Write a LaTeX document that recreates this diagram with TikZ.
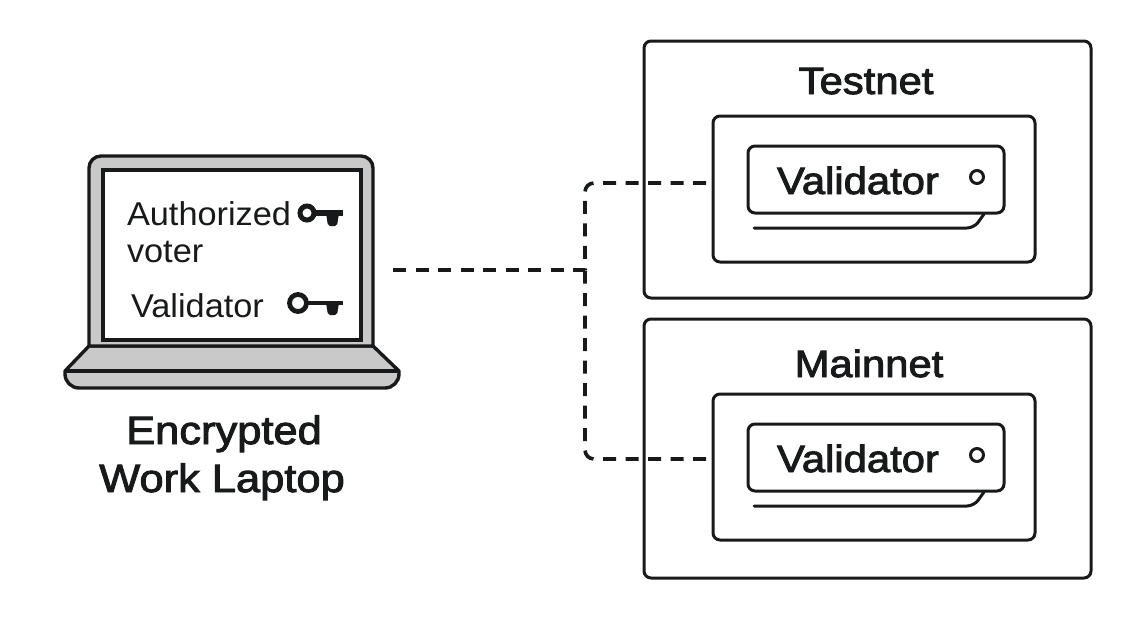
\documentclass[tikz,border=0pt]{standalone}
\usepackage{fontspec}
\setmainfont[FakeStretch=1.04]{Liberation Sans}
\newfontfamily\semibf[FakeBold=2.4,FakeStretch=1.1]{Liberation Sans}
\definecolor{ink}{HTML}{17191B}
\definecolor{shell}{HTML}{C9C9C9}
\tikzset{
  rbox/.style={draw=ink,line width=3pt,rounded corners=7pt,minimum width=#1,inner sep=0pt,outer sep=0pt},
  lbl/.style={text=ink,inner sep=0pt,outer sep=0pt,anchor=base},
  lbl34/.style={lbl,font=\fontsize{33}{38}\selectfont},
  titlefont/.style={lbl,font=\semibf\fontsize{38}{42}\selectfont},
  laptopfont/.style={lbl,font=\semibf\fontsize{39.5}{44}\selectfont},
  valfont/.style={lbl,font=\semibf\fontsize{38}{44}\selectfont},
  dashline/.style={draw=ink,line width=3.6pt,dash pattern=on 13pt off 9.5pt,rounded corners=9pt},
  solidline/.style={draw=ink,line width=3pt,line cap=round,rounded corners=7pt}
}
\begin{document}
\begin{tikzpicture}[x=1pt,y=-1pt]
\useasboundingbox (0,0) rectangle (1140,624);
% laptop
\path[draw=ink,fill=shell,line width=3.4pt,line join=round]
  (89,346) -- (65,371) [rounded corners=14pt] -- (65,388) -- (399,388) [sharp corners] -- (399,371) -- (373,346) -- cycle;
\draw[ink,line width=3.4pt] (65,371) -- (399,371);
\path[draw=ink,fill=shell,line width=3.4pt] (89,346) [rounded corners=12pt] -- (89,156) -- (373,156) [sharp corners] -- (373,346) -- cycle;
\node[draw=ink,fill=white,line width=3.4pt,minimum width=258pt,minimum height=170pt,inner sep=0pt,outer sep=0pt] (screen) at (232,255) {};
\node[lbl34,anchor=base west] (authlabel) at (127,225) {Authorized};
\node[lbl34,anchor=base west] (voterlabel) at (127,262) {voter};
\node[lbl34,anchor=base west] (vallabel) at (131,317) {Validator};
% keys
\draw[ink,line width=5pt] (307,213) circle (7);
\draw[ink,line width=5.4pt] (314,213) -- (343,213);
\fill[ink,rounded corners=2pt] (326,213) -- (339,213) -- (337,226) -- (328,226) -- cycle;
\draw[ink,line width=4.8pt] (298,303) circle (8.5);
\draw[ink,line width=4.6pt] (307,303) -- (343,303);
\fill[ink,rounded corners=2pt] (326,303) -- (339,303) -- (337,315) -- (328,315) -- cycle;
\node[laptopfont] (laptop1) at (224,444) {Encrypted};
\node[laptopfont] (laptop2) at (222,492) {Work Laptop};
% networks
\node[rbox=447pt,minimum height=257pt] (testouter) at (867.5,169.5) {};
\node[rbox=447pt,minimum height=259pt] (mainouter) at (867.5,448.5) {};
\node[titlefont] (testlabel) at (866,94) {Testnet};
\node[titlefont] (mainlabel) at (869,377) {Mainnet};
\node[rbox=322pt,minimum height=146pt] (testinner) at (874,189) {};
\node[rbox=322pt,minimum height=146pt] (maininner) at (874,467) {};
\draw[solidline] (754,228) -- (974,228) -- (984,214);
\draw[solidline] (754,506) -- (974,506) -- (984,492);
\node[rbox=256pt,minimum height=67pt,fill=white] (testval) at (876,179.5) {};
\node[rbox=256pt,minimum height=67pt,fill=white] (mainval) at (876,457.5) {};
\node[valfont] (testvallabel) at (858,194) {Validator};
\node[valfont] (mainvallabel) at (858,472) {Validator};
\node[draw=ink,line width=3pt,circle,minimum size=13pt,inner sep=0pt] (testled) at (977,177) {};
\node[draw=ink,line width=3pt,circle,minimum size=13pt,inner sep=0pt] (mainled) at (977,455) {};
% connectors
\coordinate (lapout) at (393,270);
\coordinate (junction) at (585,270);
\draw[dashline] (lapout) -- (junction);
\draw[dashline] ([shift={(-7pt,6pt)}]testinner.west) -| (junction);
\draw[dashline] ([shift={(-7pt,8pt)}]maininner.west) -| (junction);
\end{tikzpicture}
\end{document}
